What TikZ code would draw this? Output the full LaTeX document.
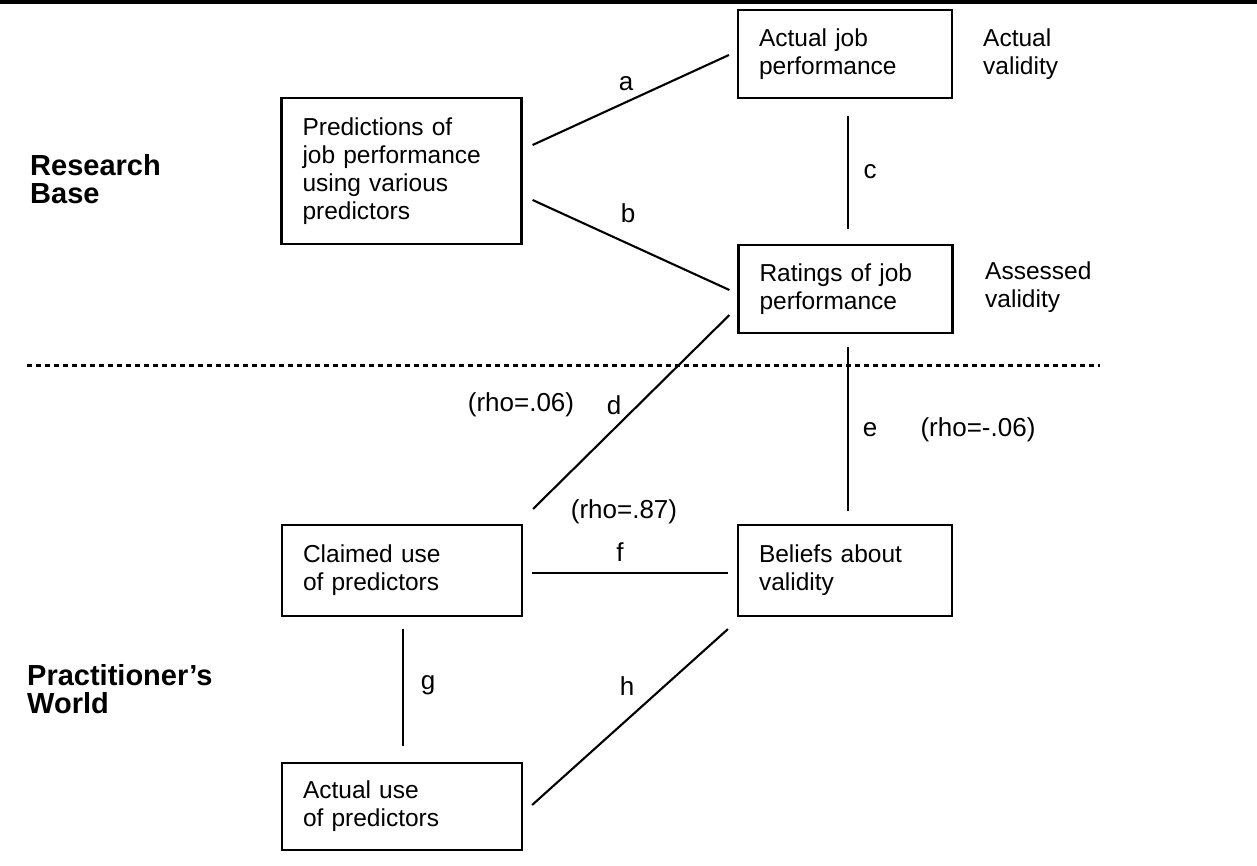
\documentclass[tikz,border=0pt]{standalone}
\usepackage{fontspec}
\setmainfont{Liberation Sans}
\begin{document}
\begin{tikzpicture}[x=1pt,y=-1pt,
  boxnode/.style={draw, line width=2.2pt, inner xsep=21pt, inner ysep=0pt, align=left,
    font=\fontsize{24.5}{28}\selectfont},
  conn/.style={line width=2.1pt},
  lbl/.style={inner sep=0pt, font=\fontsize{26}{30}\selectfont},
  side/.style={inner sep=0pt, align=left, anchor=north west, font=\fontsize{24.5}{28}\selectfont},
  region/.style={inner sep=0pt, align=left, anchor=north west, font=\bfseries\fontsize{29}{28}\selectfont}]
\useasboundingbox (0,0) rectangle (1257,865);
% top rule
\draw[line width=4pt] (0,2) -- (1257,2);
% dashed separator
\draw[line width=3pt, dash pattern=on 5pt off 4pt] (27,365) -- (1100,365);
% boxes
\node[boxnode, text width=198pt, minimum height=146pt] (P) at (401.5,171) {Predictions of\\job performance\\using various\\predictors};
\node[boxnode, text width=172pt, minimum height=88pt] (A) at (845,54) {Actual job\\performance};
\node[boxnode, text width=172pt, minimum height=88pt] (R) at (845.5,289) {Ratings of job\\performance};
\node[boxnode, text width=198pt, minimum height=91pt] (C) at (402,570.5) {Claimed use\\of predictors};
\node[boxnode, text width=172pt, minimum height=91pt] (B) at (845,570.5) {Beliefs about\\validity};
\node[boxnode, text width=198pt, minimum height=87pt] (U) at (402,806.5) {Actual use\\of predictors};
% side labels
\node[region] (rb) at (30,154) {Research\\Base};
\node[region] (pw) at (27,664) {Practitioner's\\World};
\node[side] (av) at (983,29) {Actual\\validity};
\node[side] (asv) at (985,262) {Assessed\\validity};
% connectors
\draw[conn] ([xshift=10pt,yshift=26pt]P.east) -- ([xshift=-8pt,yshift=-1pt]A.west);
\draw[conn] ([xshift=10pt,yshift=-29pt]P.east) -- ([xshift=-8pt,yshift=-1pt]R.west);
\draw[conn] ([xshift=3pt,yshift=-17pt]A.south) -- ([xshift=2.5pt,yshift=15pt]R.north);
\draw[conn] ([xshift=-8pt,yshift=-26pt]R.west) -- ([xshift=10pt,yshift=15pt]C.north east);
\draw[conn] ([xshift=2.5pt,yshift=-13pt]R.south) -- ([xshift=3pt,yshift=13pt]B.north);
\draw[conn] ([xshift=9pt,yshift=-2.5pt]C.east) -- ([xshift=-9pt,yshift=-2.5pt]B.west);
\draw[conn] ([xshift=1pt,yshift=-12pt]C.south) -- ([xshift=1pt,yshift=16pt]U.north);
\draw[conn] ([xshift=9pt,yshift=1.5pt]U.east) -- ([xshift=-9pt,yshift=-12pt]B.south west);
% connector labels
\node[lbl] (la) at (626,84) {a};
\node[lbl] (lb) at (628,213) {b};
\node[lbl] (lc) at (870,172) {c};
\node[lbl] (ld) at (614,405) {d};
\node[lbl] (rd) at (521,405) {(rho=.06)};
\node[lbl] (le) at (870,430) {e};
\node[lbl] (re) at (978,430) {(rho=-.06)};
\node[lbl] (rf) at (624,512) {(rho=.87)};
\node[lbl] (lf) at (620,552) {f};
\node[lbl] (lg) at (428,685) {g};
\node[lbl] (lh) at (627,686) {h};
\end{tikzpicture}
\end{document}
